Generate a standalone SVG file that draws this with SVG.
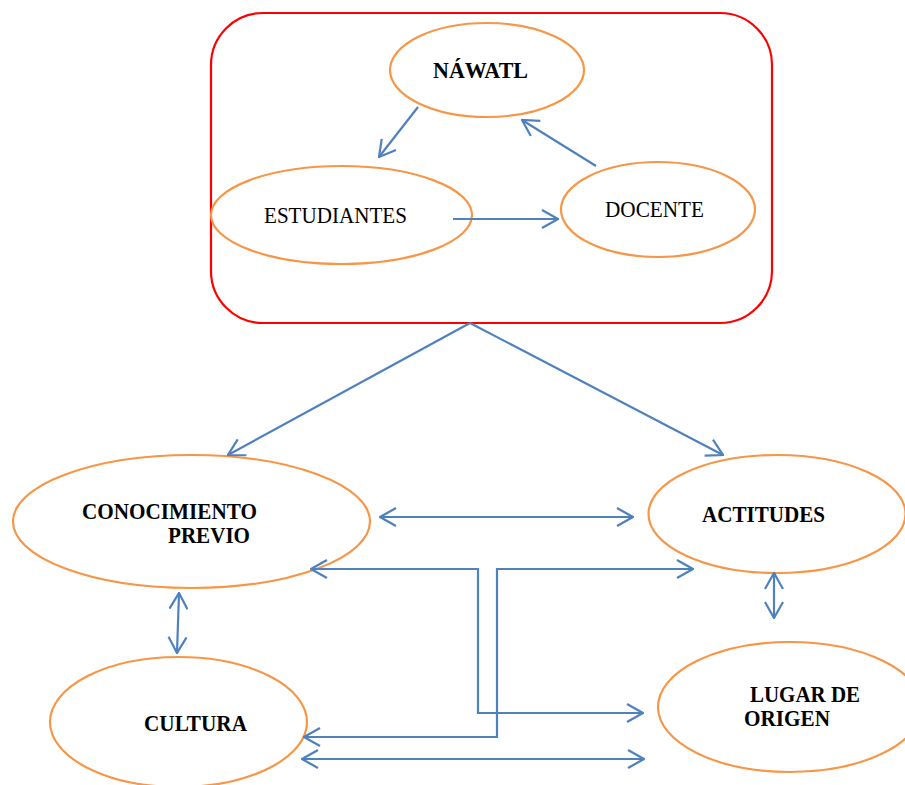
<svg xmlns="http://www.w3.org/2000/svg" width="905" height="785" viewBox="0 0 905 785">
<style>
.node{fill:#fff;stroke:#F79646;stroke-width:2.2}
.frame{fill:#fff;stroke:#FF0000;stroke-width:2.2}
.c{fill:none;stroke:#4F81BD;stroke-width:2.2}
.b{font-family:"Liberation Serif","Times New Roman",serif;font-weight:bold;font-size:23.5px;fill:#000}
.r{font-family:"Liberation Serif","Times New Roman",serif;font-size:23px;fill:#000}
</style>
<defs>
<marker id="ah" markerUnits="userSpaceOnUse" viewBox="0 0 18 20" markerWidth="18" markerHeight="20" refX="17" refY="10" orient="auto-start-reverse">
<path d="M1,1 L17,10 L1,19" fill="none" stroke="#4F81BD" stroke-width="2.2"/>
</marker>
</defs>
<g id="frame"><rect class="frame" x="211" y="13" width="561" height="310" rx="52" ry="52"/></g>
<g id="nawatl"><ellipse class="node" cx="487" cy="70" rx="97" ry="47"/><text class="b" x="433" y="78" textLength="95" lengthAdjust="spacingAndGlyphs">NÁWATL</text></g>
<g id="estudiantes"><ellipse class="node" cx="341.5" cy="215" rx="130.5" ry="49"/><text class="r" x="264" y="223" textLength="143" lengthAdjust="spacingAndGlyphs">ESTUDIANTES</text></g>
<g id="docente"><ellipse class="node" cx="658" cy="209.5" rx="97" ry="47.5"/><text class="r" x="605" y="217" textLength="99" lengthAdjust="spacingAndGlyphs">DOCENTE</text></g>
<g id="conocimiento"><ellipse class="node" cx="191.5" cy="521.5" rx="178.5" ry="66.5"/><text class="b" x="82" y="519" textLength="175" lengthAdjust="spacingAndGlyphs">CONOCIMIENTO</text><text class="b" x="168" y="543" textLength="82" lengthAdjust="spacingAndGlyphs">PREVIO</text></g>
<g id="actitudes"><ellipse class="node" cx="777" cy="514" rx="128.5" ry="59"/><text class="b" x="702" y="522" textLength="123" lengthAdjust="spacingAndGlyphs">ACTITUDES</text></g>
<g id="lugar"><ellipse class="node" cx="790" cy="707" rx="132" ry="65"/><text class="b" x="750" y="702" textLength="110" lengthAdjust="spacingAndGlyphs">LUGAR DE</text><text class="b" x="744" y="726" textLength="86" lengthAdjust="spacingAndGlyphs">ORIGEN</text></g>
<g id="cultura"><ellipse class="node" cx="178.5" cy="722" rx="128.5" ry="65"/><text class="b" x="144" y="731" textLength="103" lengthAdjust="spacingAndGlyphs">CULTURA</text></g>
<g id="connectors">
<path class="c" d="M418,107 L379,157" marker-end="url(#ah)"/>
<path class="c" d="M596,166 L522,120" marker-end="url(#ah)"/>
<path class="c" d="M453,219 L558,219" marker-end="url(#ah)"/>
<path class="c" d="M470,323 L228,455" marker-end="url(#ah)"/>
<path class="c" d="M470,323 L723,455" marker-end="url(#ah)"/>
<path class="c" d="M380,517 L633,517" marker-start="url(#ah)" marker-end="url(#ah)"/>
<path class="c" d="M311,569 L478,569 L478,713 L643,713" marker-start="url(#ah)" marker-end="url(#ah)"/>
<path class="c" d="M693,569 L497,569 L497,737 L304,737" marker-start="url(#ah)" marker-end="url(#ah)"/>
<path class="c" d="M302,759 L644,759" marker-start="url(#ah)" marker-end="url(#ah)"/>
<path class="c" d="M179,593 L177,653" marker-start="url(#ah)" marker-end="url(#ah)"/>
<path class="c" d="M774,573 L774,618" marker-start="url(#ah)" marker-end="url(#ah)"/>
</g>
</svg>
